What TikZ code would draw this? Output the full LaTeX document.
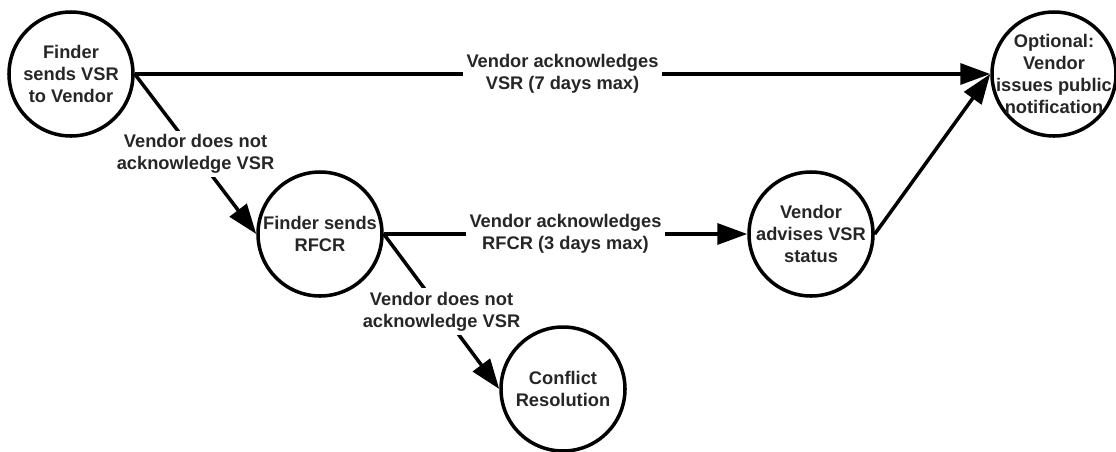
\documentclass[tikz,border=0pt]{standalone}
\usepackage{fontspec}
\setmainfont{Liberation Sans}
\definecolor{txtgray}{HTML}{262626}
\usetikzlibrary{arrows.meta}

\begin{document}
\begin{tikzpicture}[every node/.style={font=\bfseries\fontsize{10.4}{12.5}\selectfont,
                       text=txtgray, align=center},
    state/.style={draw=black, circle, line width=2pt, minimum size=2.48cm,
                  inner sep=-0.3cm},
    flow/.style={line width=2pt, -{Triangle[length=0.6cm, width=0.42cm]}},
    lbl/.style={fill=white, inner sep=2pt}]
      \useasboundingbox (0,0) rectangle (22.32,9.02);
      \node[state] (vsr) at (1.42,7.54) {Finder\\sends VSR\\to Vendor};
      \node[state] (rfcr) at (6.40,4.34) {Finder sends\\RFCR};
      \node[state] (conf) at (11.26,1.24) {Conflict\\Resolution};
      \node[state] (adv) at (16.22,4.34) {Vendor\\advises VSR\\status};
      \node[state] (pub) at (21.08,7.54)
            {Optional:\\Vendor\\issues public\\notification};
      \draw[flow] (vsr.east) -- node[lbl]
            {Vendor acknowledges\\VSR (7 days max)} (pub.west);
      \draw[flow] (vsr.east) -- node[lbl]
            {Vendor does not\\acknowledge VSR} (rfcr.west);
      \draw[flow] (rfcr.east) -- node[lbl]
            {Vendor acknowledges\\RFCR (3 days max)} (adv.west);
      \draw[flow] (rfcr.east) -- node[lbl]
            {Vendor does not\\acknowledge VSR} (conf.west);
      \draw[flow] (adv.east) -- (pub.west);
    \end{tikzpicture}
\end{document}
